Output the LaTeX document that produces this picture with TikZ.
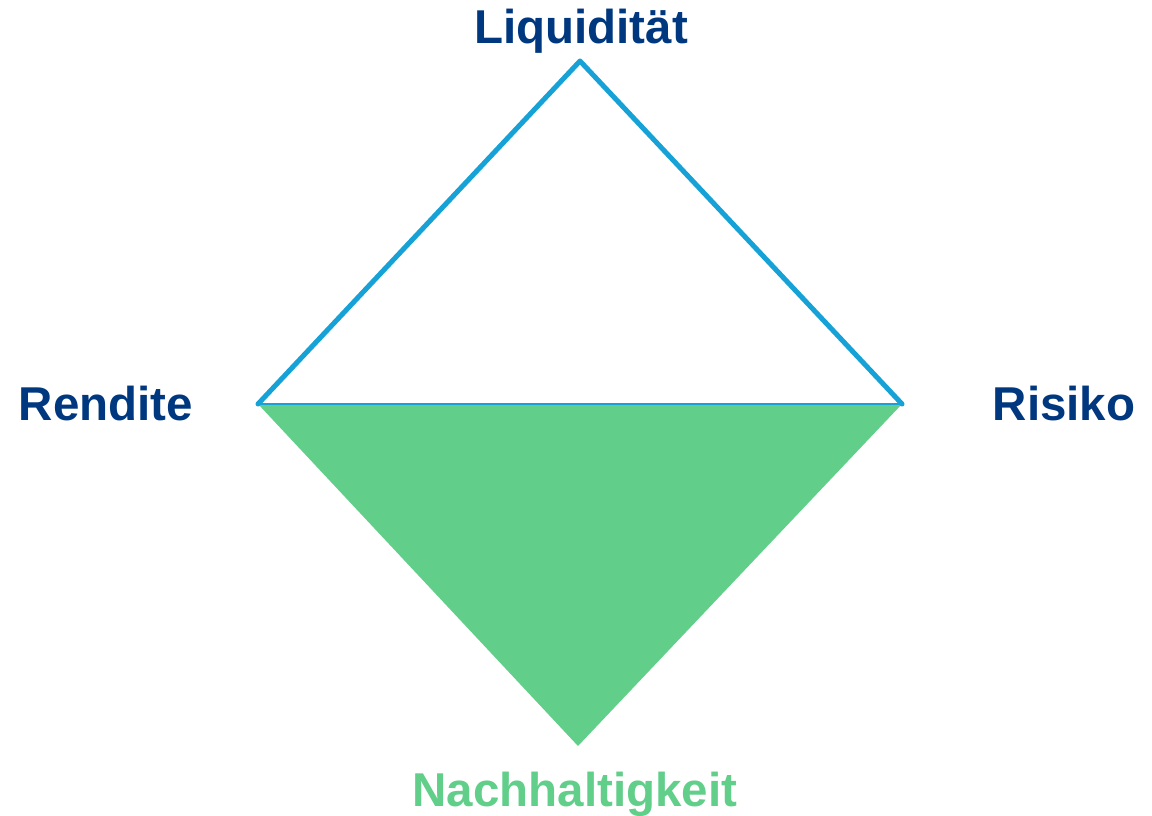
\documentclass[tikz,border=0pt]{standalone}
\usepackage{fontspec}
\setmainfont{Liberation Sans}
\definecolor{navy}{RGB}{0,56,128}
\definecolor{lineblue}{RGB}{22,162,214}
\definecolor{fillgreen}{RGB}{97,206,138}
\begin{document}
\begin{tikzpicture}[x=1pt,y=-1pt,
  lbl/.style={font=\fontsize{47.5}{56}\selectfont\bfseries, text=navy, anchor=base, inner sep=0pt},
  edge/.style={draw=lineblue, line width=5pt, line cap=round, line join=round}]
\useasboundingbox (0,0) rectangle (1152,816);
\coordinate (top) at (580,61);
\coordinate (left) at (258,404);
\coordinate (right) at (902,404);
\coordinate (bottom) at (578,746);
\fill[fillgreen] (left) -- (right) -- (bottom) -- cycle;
\draw[lineblue, line width=2pt] (left) -- (right);
\draw[edge] (left) -- (top) -- (right);
\node[lbl] (liq) at (581,44) {Liquidität};
\node[lbl] (ren) at (106,420) {Rendite};
\node[lbl] (ris) at (1064,420) {Risiko};
\node[lbl, text=fillgreen] (nach) at (575,806) {Nachhaltigkeit};
\end{tikzpicture}
\end{document}
